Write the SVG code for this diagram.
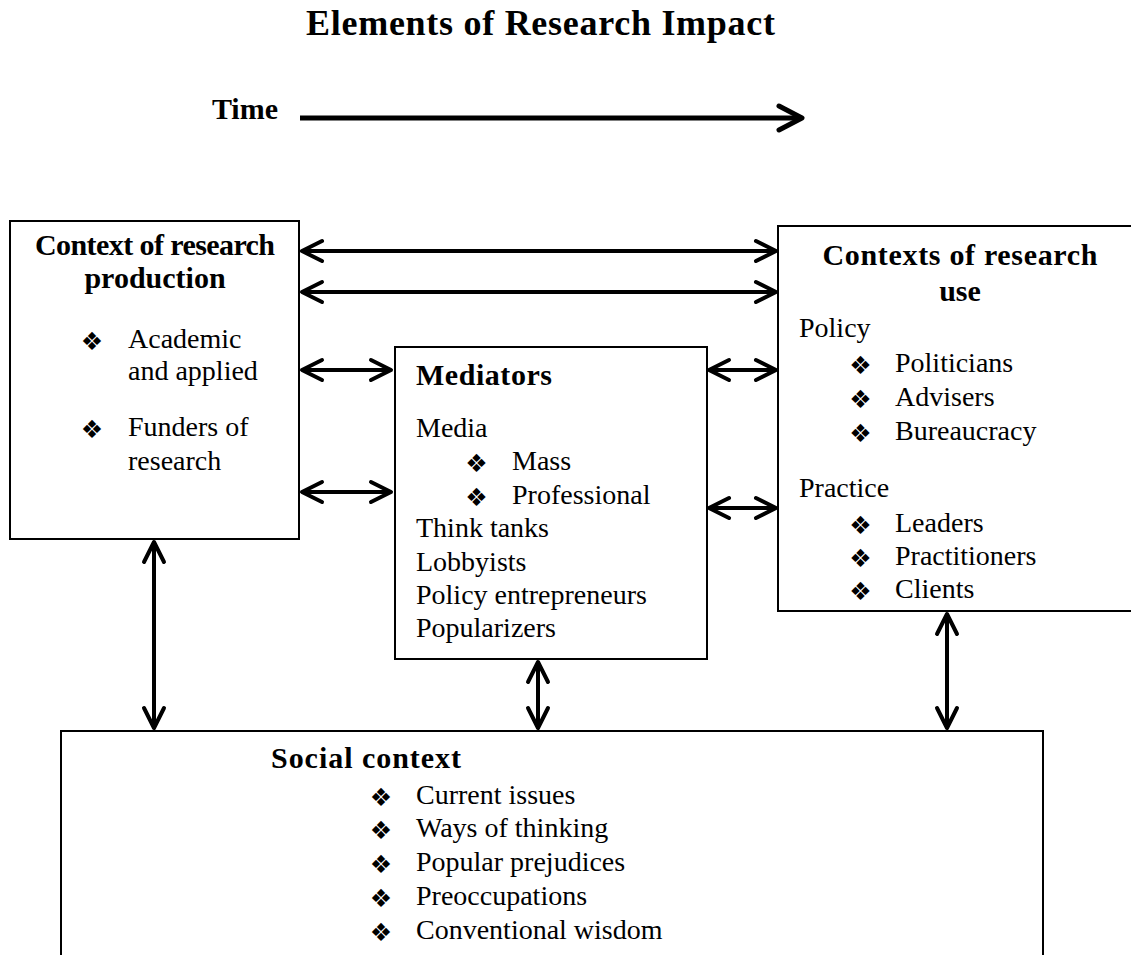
<svg xmlns="http://www.w3.org/2000/svg" width="1131" height="955" viewBox="0 0 1131 955">
<defs>
<style>
.box{fill:#fff;stroke:#000;stroke-width:2}
.t{font-family:"Liberation Serif",serif;font-size:28px;fill:#000}
.h{font-family:"Liberation Serif",serif;font-size:30px;font-weight:bold;fill:#000}
.b{font-family:"DejaVu Sans",sans-serif;font-size:25px;fill:#000;text-anchor:middle}
.c{fill:none;stroke:#000;stroke-width:4}
</style>
<marker id="ah" markerUnits="userSpaceOnUse" markerWidth="30" markerHeight="30" viewBox="-24 -15 30 30" refX="0" refY="0" orient="auto-start-reverse">
<path d="M-20,-10 L0,0 L-20,10" fill="none" stroke="#000" stroke-width="4" stroke-linejoin="round" stroke-linecap="round"/>
</marker>
<marker id="ahT" markerUnits="userSpaceOnUse" markerWidth="34" markerHeight="34" viewBox="-28 -17 34 34" refX="0" refY="0" orient="auto">
<path d="M-23,-12 L0,0 L-23,12" fill="none" stroke="#000" stroke-width="5" stroke-linejoin="round" stroke-linecap="round"/>
</marker>
</defs>
<rect width="1131" height="955" fill="#fff"/>

<g id="title">
<text class="h" x="540.5" y="35" text-anchor="middle" style="font-size:36px" textLength="469">Elements of Research Impact</text>
</g>

<g id="time">
<text class="h" x="278" y="119" text-anchor="end">Time</text>
<line class="c" x1="300" y1="118" x2="802" y2="118" style="stroke-width:5" marker-end="url(#ahT)"/>
</g>

<g id="production">
<rect class="box" x="10" y="221" width="289" height="318"/>
<text class="h" x="155" y="255" text-anchor="middle" textLength="240">Context of research</text>
<text class="h" x="155" y="288" text-anchor="middle">production</text>
<text class="b" x="92" y="350">❖</text>
<text class="t" x="128" y="348">Academic</text>
<text class="t" x="128" y="380">and applied</text>
<text class="b" x="92" y="438">❖</text>
<text class="t" x="128" y="436">Funders of</text>
<text class="t" x="128" y="470">research</text>
</g>

<g id="mediators">
<rect class="box" x="395" y="347" width="312" height="312"/>
<text class="h" x="416" y="385" textLength="136">Mediators</text>
<text class="t" x="416" y="437">Media</text>
<text class="b" x="476.5" y="472">❖</text>
<text class="t" x="512" y="470">Mass</text>
<text class="b" x="476.5" y="506">❖</text>
<text class="t" x="512" y="504">Professional</text>
<text class="t" x="416" y="537">Think tanks</text>
<text class="t" x="416" y="570.5">Lobbyists</text>
<text class="t" x="416" y="604">Policy entrepreneurs</text>
<text class="t" x="416" y="637">Popularizers</text>
</g>

<g id="use">
<rect class="box" x="778" y="226" width="370" height="385"/>
<text class="h" x="960" y="265" text-anchor="middle" textLength="275">Contexts of research</text>
<text class="h" x="960" y="301" text-anchor="middle">use</text>
<text class="t" x="799" y="337">Policy</text>
<text class="b" x="860.5" y="374">❖</text>
<text class="t" x="895" y="372">Politicians</text>
<text class="b" x="860.5" y="408">❖</text>
<text class="t" x="895" y="406">Advisers</text>
<text class="b" x="860.5" y="442">❖</text>
<text class="t" x="895" y="440">Bureaucracy</text>
<text class="t" x="799" y="497">Practice</text>
<text class="b" x="860.5" y="534">❖</text>
<text class="t" x="895" y="532">Leaders</text>
<text class="b" x="860.5" y="567">❖</text>
<text class="t" x="895" y="565">Practitioners</text>
<text class="b" x="860.5" y="600">❖</text>
<text class="t" x="895" y="598">Clients</text>
</g>

<g id="social">
<rect class="box" x="61" y="731" width="982" height="240"/>
<text class="h" x="271" y="768" textLength="190">Social context</text>
<text class="b" x="381" y="806">❖</text>
<text class="t" x="416" y="804">Current issues</text>
<text class="b" x="381" y="839">❖</text>
<text class="t" x="416" y="837">Ways of thinking</text>
<text class="b" x="381" y="873">❖</text>
<text class="t" x="416" y="871">Popular prejudices</text>
<text class="b" x="381" y="907">❖</text>
<text class="t" x="416" y="905">Preoccupations</text>
<text class="b" x="381" y="941">❖</text>
<text class="t" x="416" y="939">Conventional wisdom</text>
</g>

<g id="connectors">
<line class="c" x1="302" y1="251" x2="776" y2="251" marker-start="url(#ah)" marker-end="url(#ah)"/>
<line class="c" x1="302" y1="292" x2="776" y2="292" marker-start="url(#ah)" marker-end="url(#ah)"/>
<line class="c" x1="302" y1="370" x2="391" y2="370" marker-start="url(#ah)" marker-end="url(#ah)"/>
<line class="c" x1="302" y1="492" x2="391" y2="492" marker-start="url(#ah)" marker-end="url(#ah)"/>
<line class="c" x1="709" y1="370" x2="776" y2="370" marker-start="url(#ah)" marker-end="url(#ah)"/>
<line class="c" x1="709" y1="508" x2="776" y2="508" marker-start="url(#ah)" marker-end="url(#ah)"/>
<line class="c" x1="154" y1="542" x2="154" y2="728" marker-start="url(#ah)" marker-end="url(#ah)"/>
<line class="c" x1="538" y1="662" x2="538" y2="728" marker-start="url(#ah)" marker-end="url(#ah)"/>
<line class="c" x1="947" y1="614" x2="947" y2="728" marker-start="url(#ah)" marker-end="url(#ah)"/>
</g>
</svg>
